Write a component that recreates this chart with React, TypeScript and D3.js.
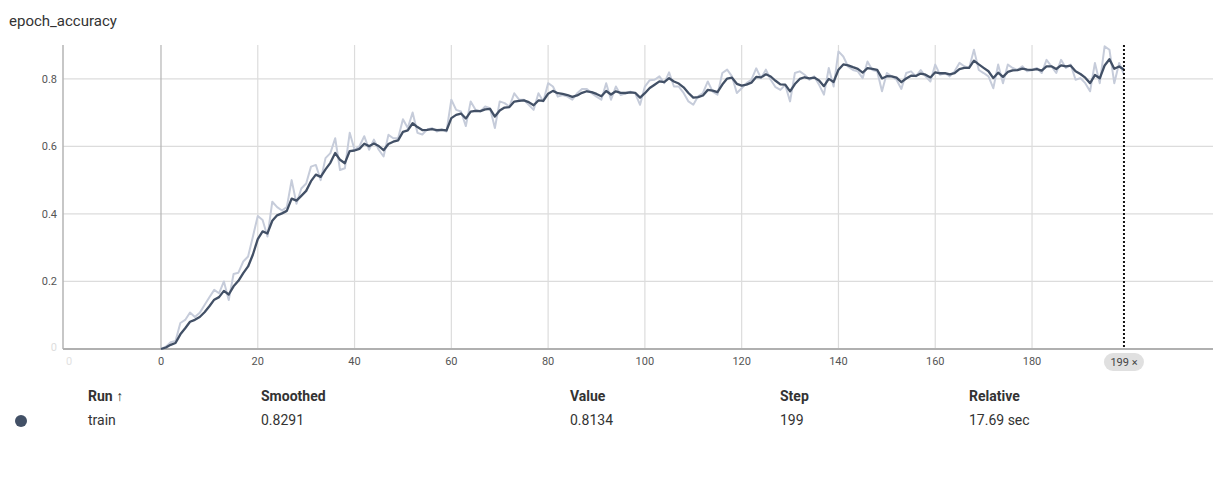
import { useMemo } from "react";
import * as d3 from "d3";

// Raw epoch_accuracy values, one per step (0..199).
const RAW_ACC: number[] = [
  0.0, 0.007, 0.02, 0.024, 0.077, 0.086, 0.108, 0.095, 0.107, 0.13,
  0.153, 0.175, 0.165, 0.2, 0.145, 0.222, 0.226, 0.259, 0.274, 0.333,
  0.394, 0.382, 0.333, 0.436, 0.42, 0.41, 0.42, 0.5, 0.43, 0.475,
  0.49, 0.54, 0.545, 0.5, 0.565, 0.58, 0.624, 0.53, 0.535, 0.64,
  0.59, 0.6, 0.63, 0.59, 0.62, 0.59, 0.57, 0.634, 0.624, 0.624,
  0.68, 0.654, 0.7, 0.64, 0.635, 0.65, 0.654, 0.644, 0.65, 0.644,
  0.738, 0.708, 0.703, 0.66, 0.733, 0.708, 0.703, 0.718, 0.713, 0.654,
  0.733, 0.728, 0.718, 0.757, 0.738, 0.738, 0.723, 0.708, 0.757, 0.733,
  0.787, 0.777, 0.747, 0.752, 0.747, 0.738, 0.757, 0.77, 0.77, 0.757,
  0.747, 0.738, 0.787, 0.738, 0.777, 0.752, 0.757, 0.762, 0.757, 0.723,
  0.777, 0.796, 0.797, 0.807, 0.787, 0.819, 0.777, 0.777, 0.758, 0.733,
  0.723, 0.748, 0.758, 0.792, 0.762, 0.753, 0.817, 0.827, 0.807, 0.758,
  0.772, 0.787, 0.797, 0.831, 0.802, 0.827, 0.797, 0.775, 0.767, 0.782,
  0.733, 0.817, 0.822, 0.812, 0.797, 0.807, 0.782, 0.753, 0.832, 0.777,
  0.881, 0.866, 0.836, 0.826, 0.822, 0.802, 0.851, 0.826, 0.822, 0.763,
  0.817, 0.807, 0.797, 0.77, 0.817, 0.822, 0.807, 0.826, 0.807, 0.792,
  0.842, 0.812, 0.817, 0.807, 0.822, 0.847, 0.837, 0.832, 0.886, 0.826,
  0.817, 0.807, 0.772, 0.842, 0.787, 0.842, 0.832, 0.826, 0.837, 0.822,
  0.826, 0.832, 0.817, 0.856, 0.837, 0.817, 0.856, 0.832, 0.842, 0.797,
  0.802, 0.787, 0.763, 0.847, 0.787, 0.896, 0.886, 0.787, 0.847, 0.8134,
];

const X_TICKS = [0, 20, 40, 60, 80, 100, 120, 140, 160, 180];
const Y_TICKS = [0.2, 0.4, 0.6, 0.8];
const SMOOTHING = 0.6;

const TABLE_HEADERS = ["Run ↑", "Smoothed", "Value", "Step", "Relative"];
const TABLE_ROW = ["train", "0.8291", "0.8134", "199", "17.69 sec"];
const COL_X = [88, 261, 570, 780, 969];

const FONT = "Roboto, 'Noto Sans', sans-serif";
const RUN_COLOR = "#425066";
const RAW_COLOR = "#c6ccda";

// tensorboard-style debiased EMA
function smooth(values: number[], w: number) {
  let last = 0;
  return values.map((v, i) => {
    last = last * w + (1 - w) * v;
    return last / (1 - Math.pow(w, i + 1));
  });
}

export default function App() {
  const W = 1213;
  const H = 487;
  const left = 63;
  const top = 45;
  const bottom = 349;

  const x = d3.scaleLinear().domain([-20.25, 217.4]).range([left, W]);
  const y = d3.scaleLinear().domain([0, 0.9]).range([bottom, top]);

  const { rawPath, smoothPath } = useMemo(() => {
    const sm = smooth(RAW_ACC, SMOOTHING);
    const line = d3
      .line<number>()
      .x((_, i) => x(i))
      .y((d) => y(d));
    return { rawPath: line(RAW_ACC) ?? "", smoothPath: line(sm) ?? "" };
  }, []);

  const lastStep = RAW_ACC.length - 1;

  return (
    <svg
      width={W}
      height={H}
      style={{ position: "absolute", left: 0, top: 0, background: "#fff" }}
      fontFamily={FONT}
    >
      <text x={9} y={26} fontSize={15} fill="#333">
        epoch_accuracy
      </text>

      {/* grid */}
      {Y_TICKS.map((t) => (
        <line key={"gy" + t} x1={left} x2={W} y1={y(t)} y2={y(t)} stroke="#dcdcdc" strokeWidth={1.2} />
      ))}
      {X_TICKS.map((t) => (
        <line
          key={"gx" + t}
          x1={x(t)}
          x2={x(t)}
          y1={top}
          y2={bottom}
          stroke={t === 0 ? "#b4b4b4" : "#dcdcdc"}
          strokeWidth={1.2}
        />
      ))}
      <line x1={left} x2={left} y1={top} y2={bottom} stroke="#b4b4b4" strokeWidth={1.5} />
      <line x1={left} x2={W} y1={bottom} y2={bottom} stroke="#b0b0b0" strokeWidth={2} />

      {/* y tick labels */}
      {Y_TICKS.map((t) => (
        <text key={"ly" + t} x={57} y={y(t) + 4} fontSize={11} fill="#555" textAnchor="end">
          {t.toFixed(1)}
        </text>
      ))}
      <text x={57} y={bottom + 2} fontSize={11} fill="#ddd" textAnchor="end">
        0
      </text>
      {/* x tick labels */}
      {X_TICKS.map((t) => (
        <text key={"lx" + t} x={x(t)} y={365} fontSize={11} fill="#555" textAnchor="middle">
          {t}
        </text>
      ))}
      <text x={69} y={365} fontSize={11} fill="#e2e2e2" textAnchor="middle">
        0
      </text>

      {/* series */}
      <path d={rawPath} fill="none" stroke={RAW_COLOR} strokeWidth={2} strokeLinejoin="round" />
      <path d={smoothPath} fill="none" stroke={RUN_COLOR} strokeWidth={2.3} strokeLinejoin="round" />

      {/* step cursor */}
      <line
        x1={x(lastStep)}
        x2={x(lastStep)}
        y1={top}
        y2={bottom}
        stroke="#111"
        strokeWidth={2}
        strokeDasharray="2,2"
      />
      <rect x={x(lastStep) - 20} y={353} width={40} height={18} rx={9} fill="#e0e0e0" />
      <text x={x(lastStep)} y={366} fontSize={11} fill="#444" textAnchor="middle">
        {lastStep} ×
      </text>

      {/* table */}
      {TABLE_HEADERS.map((h, i) => (
        <text key={h} x={COL_X[i]} y={401} fontSize={14} fontWeight={700} fill="#333">
          {h}
        </text>
      ))}
      <circle cx={21} cy={421} r={6} fill={RUN_COLOR} />
      {TABLE_ROW.map((c, i) => (
        <text key={i} x={COL_X[i]} y={425} fontSize={14} fill="#333">
          {c}
        </text>
      ))}
    </svg>
  );
}
